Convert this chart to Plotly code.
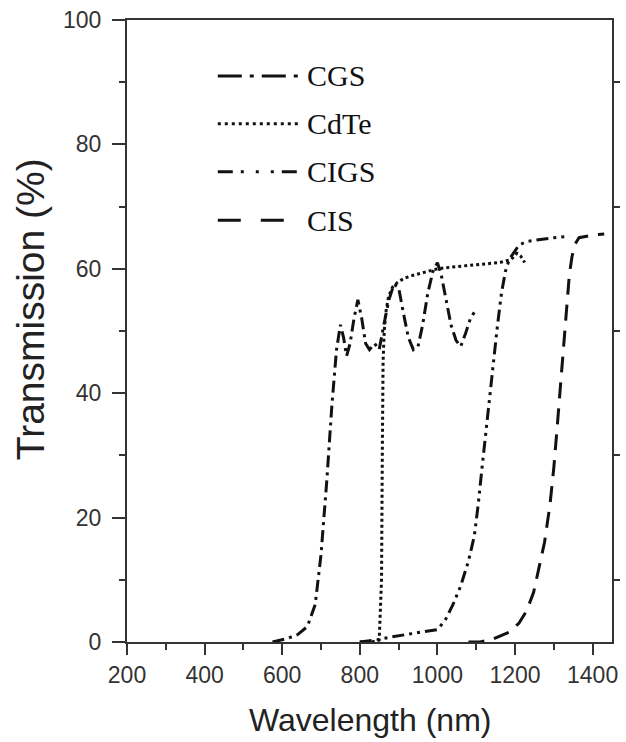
import plotly.graph_objects as go

# ---------------- data ----------------
cgs_wl = [575, 610, 640, 665, 685, 700, 715, 728, 740, 750, 758, 766, 775, 785, 795,
          805, 815, 825, 838, 850, 862, 875, 888, 900, 912, 925, 938, 950, 962, 975,
          988, 1000, 1010, 1022, 1035, 1048, 1060, 1072, 1085, 1095]
cgs_t = [0, 0.5, 1.2, 2.5, 6, 14, 26, 38, 47, 51, 49, 46, 48, 52, 55,
         52, 48, 47, 48, 47, 51, 55, 57.5, 57, 53, 49, 47, 47.5, 51, 56,
         59.5, 61, 59, 55, 51, 48.5, 47.5, 49.5, 52, 53]

cdte_wl = [800, 830, 850, 856, 858, 860, 863, 867, 874, 884, 897, 915, 940, 970, 1000,
           1040, 1080, 1120, 1160, 1190, 1205, 1215, 1225]
cdte_t = [0, 0, 0.3, 10, 30, 45, 50, 53, 55.5, 57, 57.8, 58.5, 59, 59.5, 60,
          60.3, 60.5, 60.7, 61, 61.5, 62.5, 62, 61]

cigs_wl = [800, 840, 880, 920, 960, 1000, 1020, 1040, 1060, 1080, 1095, 1105, 1115, 1125,
           1135, 1145, 1155, 1165, 1175, 1185, 1195, 1210, 1230, 1260, 1300, 1340]
cigs_t = [0, 0.3, 0.8, 1.2, 1.6, 2, 3.5, 6, 9, 13, 17, 22, 28, 34,
          40, 46, 51, 56, 59.5, 61.5, 62.5, 63.8, 64.4, 64.7, 65, 65.2]

cis_wl = [1080, 1110, 1140, 1165, 1185, 1210, 1230, 1248, 1262, 1276, 1290, 1300, 1308,
          1316, 1324, 1332, 1340, 1347, 1355, 1365, 1380, 1400, 1415, 1430]
cis_t = [0, 0, 0.4, 1, 1.6, 3, 5, 8, 12, 16, 22, 28, 34,
         40, 46, 53, 59, 62, 64, 65, 65.2, 65.4, 65.5, 65.6]

x_ticks = [200, 400, 600, 800, 1000, 1200, 1400]
x_minor = [300, 500, 700, 900, 1100, 1300]
y_ticks = [0, 20, 40, 60, 80, 100]
y_minor = [10, 30, 50, 70, 90]

names = ["CGS", "CdTe", "CIGS", "CIS"]
curve_dash = ["12px,5px,3px,5px", "3px,3px", "12px,5px,3px,5px,3px,5px", "16px,10px"]
legend_dash = ["24px,8px,4px,8px", "3px,4px", "15px,8px,3px,12px,3px,12px,3px,8px", "23px,20px"]
legend_y = [91.0, 83.3, 75.6, 67.8]

series = [(cgs_wl, cgs_t), (cdte_wl, cdte_t), (cigs_wl, cigs_t), (cis_wl, cis_t)]

fig = go.Figure()
for (wl, t), nm, dsh in zip(series, names, curve_dash):
    fig.add_trace(go.Scatter(x=wl, y=t, mode="lines", name=nm, showlegend=False,
                             line=dict(color="#111111", width=3, dash=dsh)))

# empty trace so the right-hand tick axis is drawn
fig.add_trace(go.Scatter(x=[], y=[], yaxis="y2", showlegend=False))

axis_col = "#333333"
tick_font = dict(family="Liberation Sans, Arial, sans-serif", size=23, color="#333333")

fig.update_layout(
    width=626, height=742,
    margin=dict(l=127, r=14, t=20, b=100, autoexpand=False),
    plot_bgcolor="white", paper_bgcolor="white",
    xaxis=dict(range=[200, 1450], tickvals=x_ticks, ticks="outside", ticklen=11,
               tickwidth=2, tickcolor=axis_col, showline=True, linewidth=2,
               linecolor=axis_col, mirror=True, showgrid=False, zeroline=False,
               tickfont=tick_font, automargin=False,
               minor=dict(tickvals=x_minor, ticks="outside",
                          ticklen=6, tickwidth=2, tickcolor=axis_col)),
    yaxis=dict(range=[0, 100], tickvals=y_ticks, ticks="outside", ticklen=13,
               tickwidth=2, tickcolor=axis_col, showline=True, linewidth=2,
               linecolor=axis_col, mirror=True, showgrid=False, zeroline=False,
               tickfont=tick_font, ticklabelstandoff=6, automargin=False,
               minor=dict(tickvals=y_minor, ticks="outside",
                          ticklen=6, tickwidth=2, tickcolor=axis_col)),
    yaxis2=dict(range=[0, 100], overlaying="y", side="right", tickvals=y_minor,
                ticks="outside", ticklen=7, tickwidth=2, tickcolor=axis_col,
                showticklabels=False, showline=False, showgrid=False, zeroline=False,
                automargin=False),
)

# axis titles
fig.add_annotation(text="Wavelength (nm)", xref="paper", yref="paper", x=0.5, y=-0.125,
                   xanchor="center", yanchor="middle", showarrow=False,
                   font=dict(family="Liberation Sans, Arial, sans-serif", size=32, color="#222222"))
fig.add_annotation(text="Transmission (%)", xref="paper", yref="paper", x=-0.2, y=0.535,
                   xanchor="center", yanchor="middle", showarrow=False, textangle=-90,
                   font=dict(family="Liberation Sans, Arial, sans-serif", size=39, color="#222222"))

# legend drawn inside the plot
for nm, dsh, yy in zip(names, legend_dash, legend_y):
    fig.add_shape(type="line", xref="x", yref="y", x0=434, x1=642, y0=yy, y1=yy,
                  line=dict(color="#111111", width=3, dash=dsh))
    fig.add_annotation(text=nm, xref="x", yref="y", x=660, y=yy, xanchor="left",
                       yanchor="middle", showarrow=False,
                       font=dict(family="Liberation Serif, Times New Roman, serif",
                                 size=30, color="#111111"))

fig.write_html("out.html")
